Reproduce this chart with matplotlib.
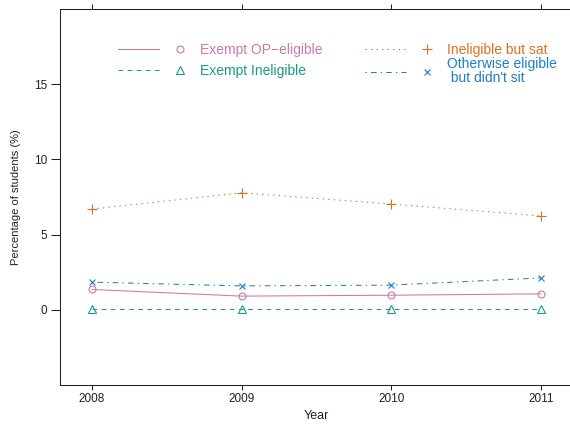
import matplotlib
matplotlib.use("Agg")
import matplotlib.pyplot as plt
from matplotlib.lines import Line2D
from matplotlib.legend_handler import HandlerTuple
from matplotlib.offsetbox import TextArea

plt.rcParams['font.family'] = ['Liberation Sans', 'DejaVu Sans']

# data
years = [2008, 2009, 2010, 2011]
exempt_op = [1.35, 0.91, 0.97, 1.06]
exempt_inelig = [0.08, 0.08, 0.08, 0.08]
inelig_sat = [6.70, 7.78, 7.03, 6.24]
other_not_sat = [1.84, 1.59, 1.64, 2.12]
yticks = [0, 5, 10, 15]

labels = ["Exempt OP\u2212eligible", "Exempt Ineligible",
          "Ineligible but sat", "Otherwise eligible\n but didn't sit"]
colors = ["#CC79A7", "#1A9A8A", "#E0701B", "#1F7FC0"]
styles = ["-", (0, (4.4, 4.4)), (0, (1.3, 4)), (0, (1.3, 4, 5.3, 4))]
markers = ["o", "^", "+", "x"]
msizes = [5, 5.5, 7, 5]
series = [exempt_op, exempt_inelig, inelig_sat, other_not_sat]

fig = plt.figure(figsize=(5.7, 4.29), dpi=100)
ax = fig.add_axes([60 / 570, 1 - 385 / 429, 513 / 570, 376 / 429])

lw = 0.75
for vals, c, ls, m, ms in zip(series, colors, styles, markers, msizes):
    ax.plot(years, vals, color=c, linestyle=ls, linewidth=lw, marker=m,
            markersize=ms, markerfacecolor='none', markeredgecolor=c,
            markeredgewidth=0.8)

ax.set_xlim(2007.786, 2011.214)
ax.set_ylim(-5, 20)
ax.set_xticks(years)
ax.set_yticks(yticks)
ax.tick_params(axis='x', direction='out', length=3.5, width=0.75, pad=2.5,
               labelsize=8.5, top=True, labeltop=False, colors='#222222')
ax.tick_params(axis='y', direction='out', length=6.3, width=0.75, pad=3,
               labelsize=8.5, right=False, colors='#222222')
for s in ax.spines.values():
    s.set_linewidth(0.75)
    s.set_color('#222222')
ax.spines['right'].set_visible(False)

ax.set_xlabel("Year", fontsize=9, color='#222222')
ax.set_ylabel("Percentage of students (%)", fontsize=8, color='#222222')
ax.xaxis.set_label_coords(0.5, -0.066)
ax.yaxis.set_label_coords(-0.076, 0.5)

# legend: line sample, marker, label (two columns)
handles = []
for c, ls, m, ms in zip(colors, styles, markers, msizes):
    ln = Line2D([], [], color=c, linestyle=ls, linewidth=lw)
    mk = Line2D([], [], color=c, linestyle='None', marker=m, markersize=ms,
                markerfacecolor='none', markeredgewidth=0.8)
    handles.append((ln, mk))

fs_leg = 10
common = dict(loc='upper left', bbox_transform=fig.transFigure, frameon=False,
              borderpad=0, borderaxespad=0, fontsize=fs_leg,
              handlelength=82 / (fs_leg * 100 / 72), handletextpad=0,
              handler_map={tuple: HandlerTuple(ndivide=None, pad=0)})

leg1 = ax.legend(handles[:2], labels[:2], bbox_to_anchor=(118 / 570, 0.899),
                 labelspacing=0.45, **common)
ax.add_artist(leg1)
leg2 = ax.legend(handles[2:], labels[2:], bbox_to_anchor=(365 / 570, 0.899),
                 labelspacing=0.0, **common)

for leg, cols in ((leg1, colors[:2]), (leg2, colors[2:])):
    for t, c in zip(leg.get_texts(), cols):
        t.set_color(c)
        t.set_linespacing(0.93)
    for ta in leg.findobj(TextArea):
        ta.set_multilinebaseline(True)

fig.savefig("out.png", dpi=100)
